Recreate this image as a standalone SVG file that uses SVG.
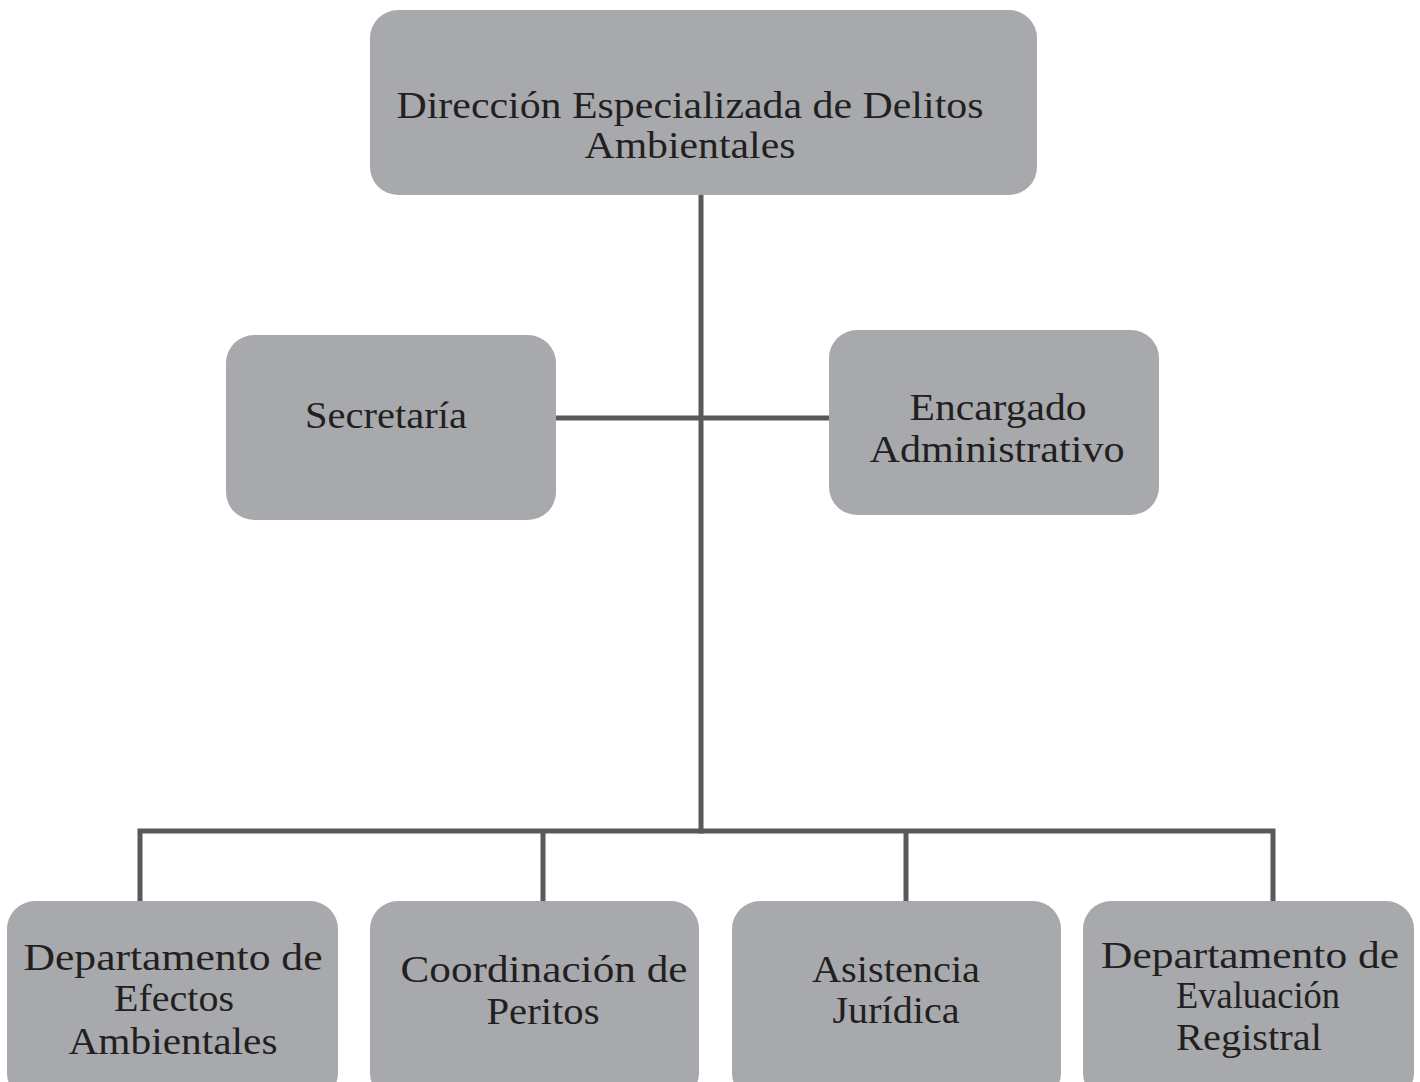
<svg xmlns="http://www.w3.org/2000/svg" width="1420" height="1082" viewBox="0 0 1420 1082">
<style>
.box{fill:#a7a9ac;}
.t{font-family:"Liberation Serif","Times New Roman",serif;font-size:38px;fill:#231f20;text-anchor:middle;}
.ln{stroke:#58595b;stroke-width:5;fill:none;}
</style>
<rect width="1420" height="1082" fill="#ffffff"/>
<g id="connectors">
<line class="ln" x1="701" y1="195" x2="701" y2="833.5"/>
<line class="ln" x1="556" y1="418" x2="829" y2="418"/>
<polyline class="ln" points="140,901 140,831 1273,831 1273,901"/>
<line class="ln" x1="543" y1="831" x2="543" y2="901"/>
<line class="ln" x1="906" y1="831" x2="906" y2="901"/>
</g>
<g id="n-direccion">
<rect class="box" x="370" y="10" width="667" height="185" rx="28"/>
<text class="t" x="690" y="118" textLength="587" lengthAdjust="spacingAndGlyphs">Dirección Especializada de Delitos</text>
<text class="t" x="690" y="158" textLength="211" lengthAdjust="spacingAndGlyphs">Ambientales</text>
</g>
<g id="n-secretaria">
<rect class="box" x="226" y="335" width="330" height="185" rx="28"/>
<text class="t" x="386" y="428" textLength="162" lengthAdjust="spacingAndGlyphs">Secretaría</text>
</g>
<g id="n-encargado">
<rect class="box" x="829" y="330" width="330" height="185" rx="28"/>
<text class="t" x="998" y="420" textLength="177" lengthAdjust="spacingAndGlyphs">Encargado</text>
<text class="t" x="997" y="462" textLength="255" lengthAdjust="spacingAndGlyphs">Administrativo</text>
</g>
<g id="n-efectos">
<rect class="box" x="7" y="901" width="331" height="200" rx="28"/>
<text class="t" x="173" y="970" textLength="299" lengthAdjust="spacingAndGlyphs">Departamento de</text>
<text class="t" x="174" y="1011" textLength="120" lengthAdjust="spacingAndGlyphs">Efectos</text>
<text class="t" x="173" y="1054" textLength="209" lengthAdjust="spacingAndGlyphs">Ambientales</text>
</g>
<g id="n-peritos">
<rect class="box" x="370" y="901" width="329" height="200" rx="28"/>
<text class="t" x="544" y="982" textLength="287" lengthAdjust="spacingAndGlyphs">Coordinación de</text>
<text class="t" x="543" y="1024" textLength="113" lengthAdjust="spacingAndGlyphs">Peritos</text>
</g>
<g id="n-juridica">
<rect class="box" x="732" y="901" width="329" height="200" rx="28"/>
<text class="t" x="896" y="982" textLength="168" lengthAdjust="spacingAndGlyphs">Asistencia</text>
<text class="t" x="896" y="1023" textLength="127" lengthAdjust="spacingAndGlyphs">Jurídica</text>
</g>
<g id="n-registral">
<rect class="box" x="1083" y="901" width="331" height="200" rx="28"/>
<text class="t" x="1250" y="968" textLength="298" lengthAdjust="spacingAndGlyphs">Departamento de</text>
<text class="t" x="1258" y="1008" textLength="164" lengthAdjust="spacingAndGlyphs">Evaluación</text>
<text class="t" x="1249" y="1050" textLength="146" lengthAdjust="spacingAndGlyphs">Registral</text>
</g>
</svg>
